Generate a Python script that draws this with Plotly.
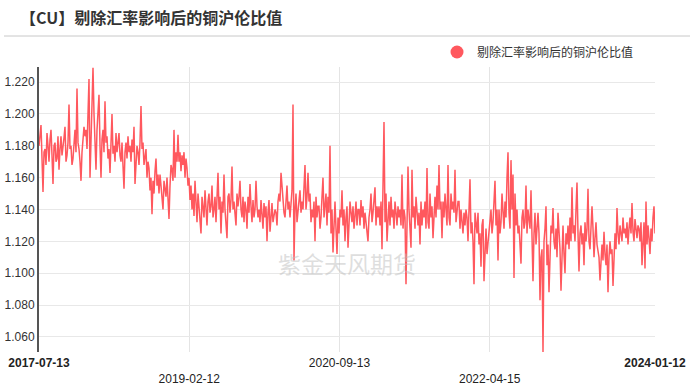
import pandas as pd
import plotly.graph_objects as go

title_text = "【CU】剔除汇率影响后的铜沪伦比值"
series_name = "剔除汇率影响后的铜沪伦比值"
watermark = "紫金天风期货"
start_date = "2017-07-13"
end_date = "2024-01-12"

tick_dates = ["2017-07-13", "2019-02-12", "2020-09-13", "2022-04-15", "2024-01-12"]
tick_labels = ["<b>2017-07-13</b>", "<br>2019-02-12", "2020-09-13", "<br>2022-04-15", "<b>2024-01-12</b>"]
y_ticks = [1.06, 1.08, 1.10, 1.12, 1.14, 1.16, 1.18, 1.20, 1.22]

ratio = [
    1.180, 1.186, 1.193, 1.172, 1.151, 1.176, 1.178, 1.168, 1.188, 1.180, 1.170, 1.184, 1.190, 1.174, 1.156, 1.180, 1.182, 1.170, 1.172, 1.186,
    1.165, 1.178, 1.186, 1.174, 1.178, 1.185, 1.192, 1.170, 1.174, 1.182, 1.206, 1.178, 1.180, 1.168, 1.172, 1.184, 1.190, 1.176, 1.216, 1.182,
    1.178, 1.170, 1.158, 1.176, 1.182, 1.192, 1.186, 1.190, 1.178, 1.195, 1.222, 1.160, 1.188, 1.195, 1.229, 1.200, 1.185, 1.165, 1.190, 1.205,
    1.212, 1.180, 1.160, 1.184, 1.190, 1.176, 1.208, 1.182, 1.186, 1.172, 1.178, 1.163, 1.186, 1.200, 1.175, 1.180, 1.170, 1.188, 1.176, 1.182,
    1.188, 1.174, 1.170, 1.182, 1.166, 1.153, 1.176, 1.182, 1.172, 1.186, 1.176, 1.180, 1.170, 1.184, 1.176, 1.192, 1.156, 1.172, 1.180, 1.176,
    1.168, 1.182, 1.205, 1.178, 1.182, 1.168, 1.176, 1.178, 1.160, 1.170, 1.166, 1.152, 1.160, 1.137, 1.158, 1.150, 1.164, 1.172, 1.155, 1.162,
    1.150, 1.162, 1.155, 1.148, 1.140, 1.158, 1.152, 1.148, 1.160, 1.145, 1.134, 1.155, 1.168, 1.165, 1.158, 1.190, 1.160, 1.176, 1.170, 1.187,
    1.170, 1.176, 1.164, 1.174, 1.168, 1.176, 1.160, 1.172, 1.166, 1.155, 1.160, 1.146, 1.155, 1.140, 1.150, 1.136, 1.158, 1.145, 1.132, 1.150,
    1.142, 1.135, 1.125, 1.148, 1.138, 1.135, 1.152, 1.140, 1.130, 1.145, 1.150, 1.138, 1.142, 1.155, 1.135, 1.140, 1.148, 1.132, 1.155, 1.163,
    1.140, 1.148, 1.125, 1.145, 1.138, 1.162, 1.140, 1.132, 1.122, 1.148, 1.150, 1.138, 1.146, 1.167, 1.140, 1.145, 1.138, 1.130, 1.150, 1.142,
    1.148, 1.158, 1.140, 1.135, 1.148, 1.132, 1.145, 1.140, 1.128, 1.148, 1.138, 1.156, 1.142, 1.132, 1.146, 1.135, 1.140, 1.158, 1.142, 1.135,
    1.140, 1.132, 1.146, 1.138, 1.128, 1.144, 1.135, 1.142, 1.120, 1.138, 1.146, 1.126, 1.140, 1.144, 1.132, 1.135, 1.140, 1.138, 1.130, 1.145,
    1.150, 1.145, 1.163, 1.155, 1.145, 1.138, 1.135, 1.150, 1.155, 1.140, 1.145, 1.135, 1.148, 1.152, 1.206, 1.108, 1.140, 1.150, 1.132, 1.138,
    1.145, 1.152, 1.138, 1.145, 1.140, 1.155, 1.168, 1.140, 1.148, 1.163, 1.145, 1.150, 1.132, 1.140, 1.135, 1.145, 1.120, 1.148, 1.135, 1.142,
    1.142, 1.128, 1.135, 1.148, 1.160, 1.135, 1.142, 1.150, 1.130, 1.148, 1.138, 1.180, 1.125, 1.140, 1.113, 1.132, 1.145, 1.128, 1.112, 1.135,
    1.125, 1.140, 1.135, 1.152, 1.130, 1.140, 1.120, 1.135, 1.142, 1.116, 1.130, 1.145, 1.138, 1.132, 1.142, 1.128, 1.136, 1.145, 1.130, 1.140,
    1.140, 1.130, 1.146, 1.135, 1.142, 1.128, 1.138, 1.132, 1.125, 1.120, 1.135, 1.140, 1.150, 1.132, 1.138, 1.145, 1.154, 1.130, 1.142, 1.135,
    1.142, 1.130, 1.145, 1.115, 1.165, 1.195, 1.132, 1.150, 1.120, 1.140, 1.145, 1.130, 1.148, 1.135, 1.140, 1.128, 1.145, 1.138, 1.130, 1.142,
    1.135, 1.140, 1.130, 1.162, 1.128, 1.140, 1.135, 1.093, 1.150, 1.167, 1.140, 1.130, 1.116, 1.165, 1.135, 1.142, 1.128, 1.148, 1.138, 1.130,
    1.138, 1.118, 1.145, 1.130, 1.140, 1.135, 1.145, 1.128, 1.166, 1.132, 1.128, 1.150, 1.135, 1.142, 1.122, 1.140, 1.148, 1.135, 1.155, 1.140,
    1.168, 1.140, 1.145, 1.122, 1.145, 1.135, 1.150, 1.140, 1.130, 1.168, 1.135, 1.130, 1.150, 1.140, 1.145, 1.138, 1.165, 1.132, 1.140, 1.145,
    1.145, 1.128, 1.140, 1.132, 1.125, 1.138, 1.130, 1.140, 1.135, 1.120, 1.142, 1.159, 1.125, 1.132, 1.120, 1.093, 1.138, 1.130, 1.125, 1.138,
    1.118, 1.125, 1.104, 1.130, 1.134, 1.095, 1.120, 1.128, 1.112, 1.120, 1.128, 1.135, 1.140, 1.125, 1.132, 1.145, 1.158, 1.130, 1.140, 1.108,
    1.140, 1.125, 1.132, 1.150, 1.140, 1.128, 1.145, 1.135, 1.160, 1.176, 1.138, 1.128, 1.171, 1.140, 1.162, 1.097, 1.150, 1.130, 1.140, 1.125,
    1.130, 1.120, 1.106, 1.135, 1.140, 1.128, 1.132, 1.155, 1.125, 1.140, 1.135, 1.128, 1.152, 1.130, 1.095, 1.125, 1.138, 1.118, 1.132, 1.138,
    1.125, 1.083, 1.110, 1.115, 1.0505, 1.120, 1.128, 1.142, 1.105, 1.118, 1.088, 1.112, 1.130, 1.125, 1.141, 1.120, 1.115, 1.128, 1.110, 1.138,
    1.125, 1.115, 1.089, 1.120, 1.130, 1.112, 1.100, 1.125, 1.118, 1.130, 1.115, 1.135, 1.120, 1.154, 1.125, 1.130, 1.120, 1.140, 1.157, 1.125,
    1.101, 1.125, 1.130, 1.118, 1.125, 1.105, 1.132, 1.120, 1.128, 1.153, 1.120, 1.115, 1.125, 1.142, 1.128, 1.110, 1.122, 1.132, 1.118, 1.112,
    1.110, 1.0955, 1.112, 1.118, 1.108, 1.126, 1.112, 1.105, 1.118, 1.088, 1.110, 1.120, 1.112, 1.115, 1.092, 1.118, 1.125, 1.115, 1.141, 1.125,
    1.118, 1.130, 1.125, 1.120, 1.135, 1.125, 1.128, 1.122, 1.132, 1.118, 1.128, 1.135, 1.125, 1.144, 1.126, 1.120, 1.134, 1.128, 1.122, 1.130,
    1.128, 1.120, 1.132, 1.105, 1.125, 1.132, 1.103, 1.145, 1.118, 1.130, 1.122, 1.112, 1.128, 1.120, 1.135, 1.142, 1.125,
]

dates = pd.date_range(start_date, end_date, periods=len(ratio))

RED = "rgb(255,88,94)"
W, H = 700, 391
ML, MR, MT, MB = 39, 45, 67, 39
PW, PH = W - ML - MR, H - MT - MB

fig = go.Figure()
fig.add_trace(go.Scatter(
    x=dates, y=ratio, mode="lines", line=dict(color=RED, width=1.5),
    showlegend=False, hoverinfo="skip",
))
fig.add_trace(go.Scatter(
    x=[None], y=[None], mode="markers", name=series_name,
    marker=dict(color=RED, size=13, symbol="circle"), showlegend=True,
))

num_font = "Liberation Sans, Arial, sans-serif"
cjk_font = "Noto Sans CJK SC, sans-serif"

fig.update_layout(
    width=W, height=H,
    margin=dict(l=ML, r=MR, t=MT, b=MB, pad=0, autoexpand=False),
    paper_bgcolor="white", plot_bgcolor="white",
    title=dict(text="<b>" + title_text + "</b>", x=20 / W, y=1 - 18 / H,
               xref="container", yref="container", xanchor="left", yanchor="middle",
               font=dict(family=cjk_font, size=16, color="#333333")),
    legend=dict(orientation="h", x=(437 - ML) / PW, y=(H - MB - 52) / PH,
                xanchor="left", yanchor="middle",
                font=dict(family=cjk_font, size=12, color="#333333"),
                bgcolor="rgba(0,0,0,0)", itemclick=False),
    xaxis=dict(
        type="date", range=[start_date, end_date], automargin=False,
        tickmode="array", tickvals=tick_dates, ticktext=tick_labels,
        showgrid=False, showline=False, zeroline=False, ticks="",
        ticklabelstandoff=2,
        tickfont=dict(family=num_font, size=12, color="#222222"),
        minor=dict(tickmode="array", tickvals=tick_dates[1:-1], showgrid=True,
                   gridcolor="#e4e4e4", gridwidth=1, ticks=""),
    ),
    yaxis=dict(
        range=[1.0505, 1.2295], tickmode="array", tickvals=y_ticks, automargin=False,
        tickformat=".3f", showgrid=True, gridcolor="#e8e8e8", gridwidth=1,
        showline=True, linecolor="#555555", linewidth=2, zeroline=False,
        ticks="", tickfont=dict(family=num_font, size=12, color="#333333"),
    ),
    shapes=[dict(type="line", xref="paper", yref="paper",
                 x0=(4 - ML) / PW, x1=(690 - ML) / PW,
                 y0=(H - MB - 36) / PH, y1=(H - MB - 36) / PH,
                 line=dict(color="#c8c8c8", width=1))],
    annotations=[dict(text=watermark, xref="paper", yref="paper",
                      x=0.5, y=(H - MB - 263) / PH, xanchor="center", yanchor="middle",
                      showarrow=False,
                      font=dict(family=cjk_font, size=23, color="rgba(190,190,190,0.5)"))],
)

fig.write_html("out.html", config={"displayModeBar": False, "staticPlot": True},
               post_script="document.body.style.margin='0';document.body.style.overflow='hidden';")
